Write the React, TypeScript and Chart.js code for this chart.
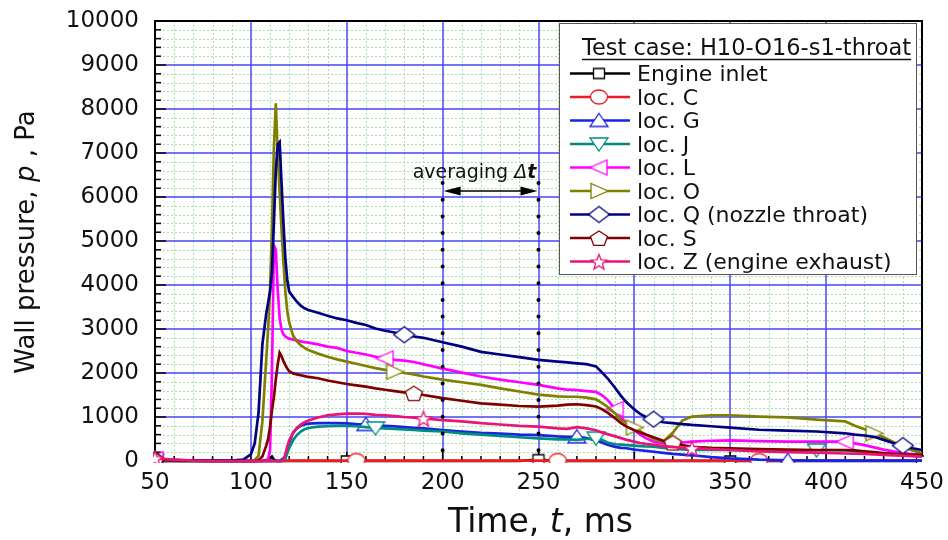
import React, { useEffect, useRef } from 'react';
import { Chart, registerables } from 'chart.js';
Chart.register(...registerables);

const FONT = "'DejaVu Sans'";

// time axis (ms)
const T = [50,60,70,80,90,96,100,102,104,106,
  108,109,110,111,112,113,114,115,116,117,
  118,119,120,122,124,126,128,130,135,140,
  145,150,155,160,165,170,175,180,185,190,
  200,210,220,230,240,250,260,265,270,275,
  280,283,286,290,293,296,300,303,306,310,
  315,320,325,330,340,350,365,380,395,410,
  415,420,425,430,435,440,445,450];

const ENGINE = [0,0,0,0,0,0,0,0,0,0,
  20,40,60,100,30,10,0,0,0,0,
  0,0,0,0,0,0,0,0,0,0,
  0,0,0,0,0,0,0,0,0,0,
  0,0,0,0,0,30,0,0,0,0,
  0,0,0,0,0,0,0,0,0,0,
  0,0,0,0,0,0,0,0,0,0,
  0,0,0,0,0,0,0,0];
const LOC_C = [0,0,0,0,0,0,0,0,0,0,
  0,0,0,0,0,0,0,0,0,0,
  5,10,10,10,10,10,10,10,10,10,
  10,10,10,10,10,10,10,10,10,10,
  10,10,10,10,10,10,10,10,10,10,
  10,10,10,10,10,10,10,10,10,10,
  10,10,10,10,10,10,10,10,10,10,
  10,10,10,10,10,10,10,10];
const LOC_G = [20,10,0,0,0,0,0,0,0,0,
  0,0,0,0,0,0,0,0,30,60,
  120,280,420,640,740,800,830,850,860,860,
  860,855,840,830,815,800,785,770,755,740,
  700,670,640,620,600,590,560,550,550,520,
  470,420,370,320,300,290,260,245,230,210,
  185,160,145,130,90,60,30,15,10,10,
  10,10,10,10,10,10,10,10];
const LOC_J = [10,0,0,0,0,0,0,0,0,0,
  0,0,0,0,0,0,0,0,0,20,
  60,180,300,470,590,670,720,750,780,790,
  800,800,790,770,750,740,730,720,705,690,
  670,630,600,570,540,515,490,490,480,500,
  520,480,420,380,370,360,350,340,330,325,
  300,280,265,250,250,250,240,230,250,240,
  220,200,180,170,160,150,150,150];
const LOC_L = [40,20,10,0,0,0,0,0,0,0,
  10,40,250,2000,4900,4800,3900,3250,2980,2880,
  2830,2800,2780,2760,2740,2720,2700,2690,2650,2600,
  2570,2500,2460,2420,2370,2330,2300,2280,2250,2200,
  2100,2010,1920,1850,1790,1730,1650,1620,1610,1590,
  1570,1500,1390,1180,1000,850,700,600,520,440,
  400,400,420,440,460,470,450,440,440,440,
  400,360,310,260,220,180,150,140];
const LOC_O = [20,10,0,0,0,0,0,20,120,900,
  2300,3000,3900,5300,7100,8130,7000,6100,5250,4500,
  3850,3400,3150,2850,2720,2630,2570,2520,2440,2370,
  2310,2260,2210,2160,2110,2070,2030,2000,1970,1920,
  1850,1790,1730,1650,1580,1510,1470,1460,1460,1440,
  1400,1320,1230,1080,930,860,760,680,600,500,
  440,640,920,1010,1040,1040,1010,990,940,900,
  800,720,630,540,430,330,240,180];
const LOC_Q = [30,20,10,10,10,30,150,400,1100,2650,
  3350,3600,3850,4300,5400,6600,7200,7250,6300,5400,
  4600,4100,3850,3730,3620,3530,3470,3430,3370,3300,
  3240,3200,3140,3090,3010,2960,2920,2870,2830,2800,
  2700,2600,2480,2420,2360,2300,2260,2240,2220,2200,
  2150,2020,1880,1660,1480,1330,1170,1070,1000,950,
  880,860,840,820,790,760,710,690,670,630,
  600,580,550,480,410,350,290,250];
const LOC_S = [30,20,10,0,0,0,0,0,20,100,
  350,500,780,1150,1450,1850,2200,2460,2380,2270,
  2180,2100,2040,1990,1970,1950,1930,1910,1880,1830,
  1790,1750,1720,1690,1650,1620,1590,1560,1540,1500,
  1430,1370,1310,1280,1250,1235,1260,1280,1290,1270,
  1240,1180,1100,970,860,780,700,650,600,540,
  460,420,360,320,300,290,270,260,250,250,
  240,220,200,180,160,150,140,140];
const LOC_Z = [60,30,10,0,0,0,0,0,0,0,
  0,0,0,0,0,0,0,0,0,20,
  150,330,470,640,750,830,880,920,990,1040,
  1060,1075,1080,1070,1050,1040,1020,1000,985,970,
  930,900,860,830,800,780,740,730,770,740,
  700,650,610,560,520,480,440,410,390,370,
  340,320,300,290,270,250,220,200,190,170,
  165,160,150,140,130,120,110,100];

const SERIES_NAMES = ['Engine inlet','loc. C','loc. G','loc. J','loc. L','loc. O','loc. Q (nozzle throat)','loc. S','loc. Z (engine exhaust)'];
const SERIES_VALUES = [ENGINE, LOC_C, LOC_G, LOC_J, LOC_L, LOC_O, LOC_Q, LOC_S, LOC_Z];
const SERIES_COLORS = ['#000000','rgb(237,28,36)','rgb(25,35,225)','rgb(0,140,128)','rgb(255,0,255)','rgb(128,128,0)','rgb(0,0,128)','rgb(128,0,0)','rgb(232,20,120)'];
const SERIES_SHAPES = ['square','circle','up','down','left','right','diamond','pentagon','star'];
const MARKER_TIMES = [
  [50,150,250,350,450],
  [50,155,260,365],
  [50,160,270,380],
  [50,165,280,395],
  [50,170,290,410],
  [50,175,300,425],
  [50,180,310,440],
  [50,185,320],
  [50,190,330],
];
const LEGEND_TITLE = 'Test case: H10-O16-s1-throat';
const X_MIN = 50, X_MAX = 450, X_STEP = 50, X_MINOR = 10;
const Y_MIN = 0, Y_MAX = 10000, Y_STEP = 1000, Y_MINOR = 200;
const AVG_START = 200, AVG_END = 250;

function makeMarker(shape: string, color: string): HTMLCanvasElement {
  const c = document.createElement('canvas');
  const W = 26, H = 22;
  c.width = W; c.height = H;
  const g = c.getContext('2d') as CanvasRenderingContext2D;
  const cx = W / 2, cy = H / 2;
  g.beginPath();
  if (shape === 'square') g.rect(cx - 5.5, cy - 5, 11, 10);
  else if (shape === 'circle') g.ellipse(cx, cy, 8.5, 7, 0, 0, Math.PI * 2);
  else if (shape === 'up') { g.moveTo(cx, cy - 7); g.lineTo(cx + 9, cy + 6); g.lineTo(cx - 9, cy + 6); g.closePath(); }
  else if (shape === 'down') { g.moveTo(cx, cy + 7); g.lineTo(cx + 9, cy - 6); g.lineTo(cx - 9, cy - 6); g.closePath(); }
  else if (shape === 'left') { g.moveTo(cx - 9, cy); g.lineTo(cx + 8, cy - 7.5); g.lineTo(cx + 8, cy + 7.5); g.closePath(); }
  else if (shape === 'right') { g.moveTo(cx + 9, cy); g.lineTo(cx - 8, cy - 7.5); g.lineTo(cx - 8, cy + 7.5); g.closePath(); }
  else if (shape === 'diamond') { g.moveTo(cx, cy - 8); g.lineTo(cx + 10.5, cy); g.lineTo(cx, cy + 8); g.lineTo(cx - 10.5, cy); g.closePath(); }
  else if (shape === 'pentagon') {
    for (let k = 0; k < 5; k++) {
      const a = -Math.PI / 2 + k * 2 * Math.PI / 5;
      const px = cx + 9 * Math.cos(a), py = cy + 1 + 8 * Math.sin(a);
      if (k === 0) g.moveTo(px, py); else g.lineTo(px, py);
    }
    g.closePath();
  } else if (shape === 'star') {
    for (let k = 0; k < 10; k++) {
      const a = -Math.PI / 2 + k * Math.PI / 5;
      const r = k % 2 === 0 ? 1 : 0.42;
      const px = cx + 8.5 * r * Math.cos(a), py = cy + 1 + 8 * r * Math.sin(a);
      if (k === 0) g.moveTo(px, py); else g.lineTo(px, py);
    }
    g.closePath();
  }
  g.fillStyle = '#ffffff';
  g.fill();
  g.strokeStyle = color;
  g.lineWidth = 1.3;
  g.stroke();
  return c;
}

function drawRich(ctx: CanvasRenderingContext2D, segs: { t: string; f: string }[], x: number, y: number, center: boolean) {
  let total = 0;
  const ws = segs.map(s => { ctx.font = s.f; const w = ctx.measureText(s.t).width; total += w; return w; });
  let cx = center ? x - total / 2 : x;
  ctx.textAlign = 'left';
  segs.forEach((s, i) => { ctx.font = s.f; ctx.fillText(s.t, cx, y); cx += ws[i]; });
}

export default function App() {
  const ref = useRef<HTMLCanvasElement | null>(null);

  useEffect(() => {
    document.body.style.margin = '0';
    const canvas = ref.current;
    if (!canvas) return;
    const markers = SERIES_SHAPES.map((s, i) => makeMarker(s, SERIES_COLORS[i]));

    const gridPlugin = {
      id: 'gridFrame',
      beforeDatasetsDraw(chart: any) {
        const ctx = chart.ctx as CanvasRenderingContext2D;
        const { left, right, top, bottom } = chart.chartArea;
        const xs = chart.scales.x, ys = chart.scales.y;
        ctx.save();
        // minor dotted green grid
        ctx.strokeStyle = 'rgb(165,225,165)';
        ctx.lineWidth = 1;
        ctx.setLineDash([2, 2]);
        for (let v = X_MIN + X_MINOR; v < X_MAX; v += X_MINOR) {
          if (v % X_STEP === 0) continue;
          const p = Math.round(xs.getPixelForValue(v)) + 0.5;
          ctx.beginPath(); ctx.moveTo(p, top); ctx.lineTo(p, bottom); ctx.stroke();
        }
        for (let v = Y_MIN + Y_MINOR; v < Y_MAX; v += Y_MINOR) {
          if (v % Y_STEP === 0) continue;
          const p = Math.round(ys.getPixelForValue(v)) + 0.5;
          ctx.beginPath(); ctx.moveTo(left, p); ctx.lineTo(right, p); ctx.stroke();
        }
        // major blue grid
        ctx.setLineDash([]);
        ctx.strokeStyle = 'rgb(70,70,240)';
        ctx.lineWidth = 1.5;
        for (let v = X_MIN + X_STEP; v < X_MAX; v += X_STEP) {
          const p = Math.round(xs.getPixelForValue(v));
          ctx.beginPath(); ctx.moveTo(p, top); ctx.lineTo(p, bottom); ctx.stroke();
        }
        for (let v = Y_MIN + Y_STEP; v < Y_MAX; v += Y_STEP) {
          const p = Math.round(ys.getPixelForValue(v));
          ctx.beginPath(); ctx.moveTo(left, p); ctx.lineTo(right, p); ctx.stroke();
        }
        // ticks (inside)
        ctx.strokeStyle = '#000';
        ctx.lineWidth = 1.5;
        for (let v = X_MIN; v <= X_MAX; v += X_MINOR) {
          const p = xs.getPixelForValue(v);
          const len = v % X_STEP === 0 ? 9 : 5;
          ctx.beginPath(); ctx.moveTo(p, bottom); ctx.lineTo(p, bottom - len); ctx.stroke();
        }
        for (let v = Y_MIN; v <= Y_MAX; v += Y_MINOR) {
          const p = ys.getPixelForValue(v);
          const len = v % Y_STEP === 0 ? 11 : 6;
          ctx.beginPath(); ctx.moveTo(left, p); ctx.lineTo(left + len, p); ctx.stroke();
        }
        // frame
        ctx.lineWidth = 2;
        ctx.beginPath();
        ctx.moveTo(left, top); ctx.lineTo(right, top); ctx.lineTo(right, bottom); ctx.lineTo(left, bottom); ctx.closePath();
        ctx.stroke();
        ctx.restore();
      },
      afterDatasetsDraw(chart: any) {
        const ctx = chart.ctx as CanvasRenderingContext2D;
        const { bottom } = chart.chartArea;
        const xs = chart.scales.x;
        const x1 = xs.getPixelForValue(AVG_START), x2 = xs.getPixelForValue(AVG_END);
        ctx.save();
        // dotted verticals
        ctx.strokeStyle = '#000';
        ctx.lineWidth = 4;
        ctx.lineCap = 'round';
        ctx.setLineDash([0, 16.7]);
        [x1, x2].forEach(x => { ctx.beginPath(); ctx.moveTo(x, 183); ctx.lineTo(x, bottom); ctx.stroke(); });
        ctx.setLineDash([]);
        ctx.lineCap = 'butt';
        // arrow
        const ay = 191;
        ctx.lineWidth = 1.5;
        ctx.beginPath(); ctx.moveTo(x1 + 10, ay); ctx.lineTo(x2 - 10, ay); ctx.stroke();
        ctx.fillStyle = '#000';
        ctx.beginPath(); ctx.moveTo(x1 + 1, ay); ctx.lineTo(x1 + 18, ay - 4.5); ctx.lineTo(x1 + 18, ay + 4.5); ctx.closePath(); ctx.fill();
        ctx.beginPath(); ctx.moveTo(x2 - 1, ay); ctx.lineTo(x2 - 18, ay - 4.5); ctx.lineTo(x2 - 18, ay + 4.5); ctx.closePath(); ctx.fill();
        // label
        ctx.fillStyle = '#111';
        ctx.textBaseline = 'alphabetic';
        drawRich(ctx, [
          { t: 'averaging ', f: `19px ${FONT}` },
          { t: 'Δ', f: `italic 19px ${FONT}` },
          { t: 't', f: `italic bold 19px ${FONT}` },
        ], x1 - 30, 178, false);
        ctx.restore();
      },
      afterDraw(chart: any) {
        const ctx = chart.ctx as CanvasRenderingContext2D;
        ctx.save();
        ctx.fillStyle = '#111';
        ctx.textBaseline = 'alphabetic';
        // x title
        drawRich(ctx, [
          { t: 'Time, ', f: `33px ${FONT}` },
          { t: 't', f: `italic 33px ${FONT}` },
          { t: ', ms', f: `33px ${FONT}` },
        ], (chart.chartArea.left + chart.chartArea.right) / 2 + 2, 532, true);
        // y title
        ctx.save();
        ctx.translate(34, 242);
        ctx.rotate(-Math.PI / 2);
        drawRich(ctx, [
          { t: 'Wall pressure, ', f: `26px ${FONT}` },
          { t: 'p', f: `italic 26px ${FONT}` },
          { t: ' , Pa', f: `26px ${FONT}` },
        ], 0, 0, true);
        ctx.restore();

        // legend box
        const bx = 559, by = 23, bw = 357, bh = 251;
        ctx.fillStyle = '#ffffff';
        ctx.fillRect(bx, by, bw, bh);
        ctx.strokeStyle = '#555';
        ctx.lineWidth = 1;
        ctx.strokeRect(bx + 0.5, by + 0.5, bw, bh);
        ctx.fillStyle = '#111';
        ctx.font = `22.5px ${FONT}`;
        ctx.textAlign = 'left';
        ctx.fillText(LEGEND_TITLE, 582, 55);
        const tw = ctx.measureText(LEGEND_TITLE).width;
        ctx.strokeStyle = '#111';
        ctx.lineWidth = 1.5;
        ctx.beginPath(); ctx.moveTo(582, 59.5); ctx.lineTo(582 + tw, 59.5); ctx.stroke();
        SERIES_NAMES.forEach((name, i) => {
          const cy = 73.5 + i * 23.5;
          ctx.strokeStyle = SERIES_COLORS[i];
          ctx.lineWidth = 2.5;
          ctx.beginPath(); ctx.moveTo(570, cy); ctx.lineTo(630, cy); ctx.stroke();
          const m = markers[i];
          ctx.drawImage(m, 599 - m.width / 2, cy - m.height / 2);
          ctx.fillStyle = '#111';
          ctx.font = `22px ${FONT}`;
          ctx.fillText(name, 637, cy + 7.5);
        });
        ctx.restore();
      },
    };

    const datasets = SERIES_VALUES.map((vals, i) => {
      const marks = MARKER_TIMES[i];
      return {
        label: SERIES_NAMES[i],
        data: T.map((t, k) => ({ x: t, y: vals[k] })),
        borderColor: SERIES_COLORS[i],
        backgroundColor: SERIES_COLORS[i],
        borderWidth: 2.7,
        tension: 0,
        fill: false,
        pointStyle: markers[i],
        pointRadius: (c: any) => (marks.includes(T[c.dataIndex]) ? 8 : 0),
        pointHoverRadius: 0,
        order: SERIES_VALUES.length - 1 - i,
        clip: 2,
      };
    });

    const chart = new Chart(canvas, {
      type: 'line',
      data: { datasets } as any,
      options: {
        animation: false,
        responsive: false,
        maintainAspectRatio: false,
        events: [],
        layout: { padding: { left: 0, top: 21, right: 26, bottom: 0 } },
        plugins: { legend: { display: false }, tooltip: { enabled: false } },
        scales: {
          x: {
            type: 'linear',
            min: X_MIN,
            max: X_MAX,
            ticks: { stepSize: X_STEP, font: { family: 'DejaVu Sans', size: 23 }, color: '#111', padding: 8, maxRotation: 0, autoSkip: false, callback: (v: any) => String(v) },
            grid: { display: false, drawTicks: false },
            border: { display: false },
            afterFit: (s: any) => { s.height = 79; s.paddingLeft = 0; s.paddingRight = 0; },
          },
          y: {
            type: 'linear',
            min: Y_MIN,
            max: Y_MAX,
            ticks: { stepSize: Y_STEP, font: { family: 'DejaVu Sans', size: 23 }, color: '#111', padding: 16, callback: (v: any) => String(v) },
            grid: { display: false, drawTicks: false },
            border: { display: false },
            afterFit: (s: any) => { s.width = 155; s.paddingTop = 0; s.paddingBottom = 0; },
          },
        },
      } as any,
      plugins: [gridPlugin],
    });
    return () => chart.destroy();
  }, []);

  return <canvas ref={ref} width={948} height={540} style={{ display: 'block' }} />;
}
